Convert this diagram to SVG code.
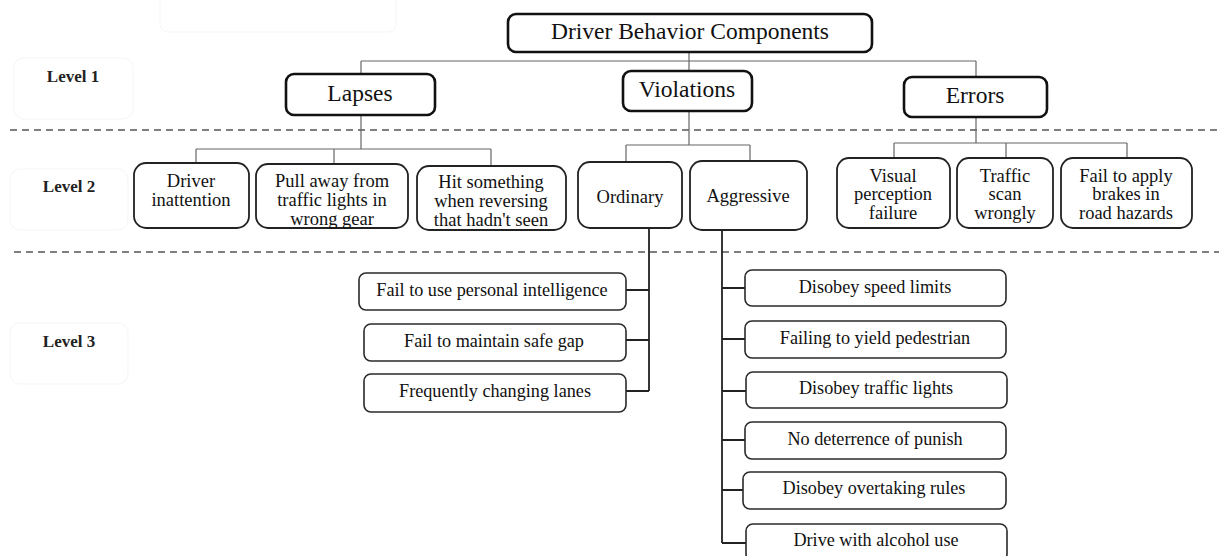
<svg xmlns="http://www.w3.org/2000/svg" width="1219" height="556" viewBox="0 0 1219 556">
<style>
text{font-family:"Liberation Serif","Times New Roman",serif;fill:#111;text-anchor:middle}
.t1{font-size:23.5px}
.t2{font-size:18.5px}
.t3{font-size:18.2px}
.lv{font-size:17px;font-weight:bold;fill:#222}
.b1{fill:#fff;stroke:#111;stroke-width:2.6}
.b2{fill:#fff;stroke:#222;stroke-width:1.8}
.b3{fill:#fff;stroke:#2a2a2a;stroke-width:1.6}
.ghost{fill:#fff;stroke:#f5f5f5;stroke-width:1}
.dash{stroke:#555;stroke-width:1.6;stroke-dasharray:7 5;fill:none}
.c1{stroke:#666;stroke-width:1.2;fill:none}
.c3{stroke:#222;stroke-width:1.8;fill:none}
</style>
<rect width="1219" height="556" fill="#fff"/>
<g id="ghosts">
<rect class="ghost" x="160" y="-10" width="236" height="42" rx="8"/>
</g>
<g id="level-labels">
<g id="level1"><rect class="ghost" x="14" y="58" width="119" height="61" rx="10"/><text class="lv" x="73" y="82">Level 1</text></g>
<g id="level2"><rect class="ghost" x="10" y="169" width="118" height="61" rx="10"/><text class="lv" x="69" y="192">Level 2</text></g>
<g id="level3"><rect class="ghost" x="10" y="323" width="118" height="61" rx="10"/><text class="lv" x="69" y="347">Level 3</text></g>
</g>
<g id="separators">
<line class="dash" x1="10" y1="130" x2="1219" y2="130"/>
<line class="dash" x1="14" y1="252" x2="1219" y2="252"/>
</g>
<g id="connectors">
<path class="c1" d="M689 52V71M361 61H976M361 61V149M976 61V143M689 111V145"/>
<path class="c1" d="M196 149H491M196 149V163M334 149V164M491 149V166"/>
<path class="c1" d="M626 145H750M626 145V162M750 145V161"/>
<path class="c1" d="M894 143H1127M894 143V158M1006 143V158M1127 143V158"/>
<path class="c3" d="M649 228V391M626 290H649M626 340H649M626 391H649"/>
<path class="c3" d="M722 230V543M722 288H745M722 339H745M722 391H746M722 440H745M722 490H743M722 543H746"/>
</g>
<g id="root"><rect class="b1" x="508" y="14" width="364" height="38" rx="8"/><text class="t1" x="690" y="39">Driver Behavior Components</text></g>
<g id="lapses"><rect class="b1" x="286" y="74" width="149" height="41" rx="8"/><text class="t1" x="360" y="101">Lapses</text></g>
<g id="violations"><rect class="b1" x="623" y="71" width="129" height="40" rx="8"/><text class="t1" x="687" y="97">Violations</text></g>
<g id="errors"><rect class="b1" x="904" y="77" width="143" height="40" rx="8"/><text class="t1" x="975" y="103">Errors</text></g>
<g id="driver-inattention"><rect class="b2" x="134" y="163" width="115" height="65" rx="12"/><text class="t2" x="191" y="187">Driver</text><text class="t2" x="191" y="206">inattention</text></g>
<g id="pull-away"><rect class="b2" x="256" y="164" width="152" height="64" rx="12"/><text class="t2" x="332" y="187">Pull away from</text><text class="t2" x="332" y="206">traffic lights in</text><text class="t2" x="332" y="225">wrong gear</text></g>
<g id="hit-something"><rect class="b2" x="417" y="166" width="149" height="64" rx="12"/><text class="t2" x="491" y="188">Hit something</text><text class="t2" x="491" y="207">when reversing</text><text class="t2" x="491" y="226">that hadn't seen</text></g>
<g id="ordinary"><rect class="b2" x="578" y="162" width="104" height="66" rx="12"/><text class="t2" x="630" y="203">Ordinary</text></g>
<g id="aggressive"><rect class="b2" x="690" y="161" width="117" height="69" rx="12"/><text class="t2" x="748" y="202">Aggressive</text></g>
<g id="visual-perception"><rect class="b2" x="837" y="158" width="113" height="70" rx="12"/><text class="t2" x="893" y="182">Visual</text><text class="t2" x="893" y="200">perception</text><text class="t2" x="893" y="219">failure</text></g>
<g id="traffic-scan"><rect class="b2" x="957" y="158" width="96" height="70" rx="12"/><text class="t2" x="1005" y="182">Traffic</text><text class="t2" x="1005" y="200">scan</text><text class="t2" x="1005" y="219">wrongly</text></g>
<g id="fail-brakes"><rect class="b2" x="1061" y="158" width="131" height="70" rx="12"/><text class="t2" x="1126" y="182">Fail to apply</text><text class="t2" x="1126" y="200">brakes in</text><text class="t2" x="1126" y="219">road hazards</text></g>
<g id="fail-intelligence"><rect class="b3" x="359" y="273" width="267" height="37" rx="7"/><text class="t3" x="492" y="296">Fail to use personal intelligence</text></g>
<g id="fail-gap"><rect class="b3" x="364" y="324" width="262" height="37" rx="7"/><text class="t3" x="494" y="347">Fail to maintain safe gap</text></g>
<g id="changing-lanes"><rect class="b3" x="364" y="374" width="262" height="38" rx="7"/><text class="t3" x="495" y="397">Frequently changing lanes</text></g>
<g id="speed-limits"><rect class="b3" x="745" y="270" width="261" height="36" rx="7"/><text class="t3" x="875" y="293">Disobey speed limits</text></g>
<g id="yield-pedestrian"><rect class="b3" x="745" y="321" width="261" height="37" rx="7"/><text class="t3" x="875" y="344">Failing to yield pedestrian</text></g>
<g id="traffic-lights"><rect class="b3" x="746" y="372" width="261" height="36" rx="7"/><text class="t3" x="876" y="394">Disobey traffic lights</text></g>
<g id="deterrence"><rect class="b3" x="745" y="422" width="261" height="37" rx="7"/><text class="t3" x="875" y="445">No deterrence of punish</text></g>
<g id="overtaking"><rect class="b3" x="743" y="472" width="263" height="37" rx="7"/><text class="t3" x="874" y="494">Disobey overtaking rules</text></g>
<g id="alcohol"><rect class="b3" x="746" y="524" width="261" height="37" rx="7"/><text class="t3" x="876" y="546">Drive with alcohol use</text></g>
</svg>
